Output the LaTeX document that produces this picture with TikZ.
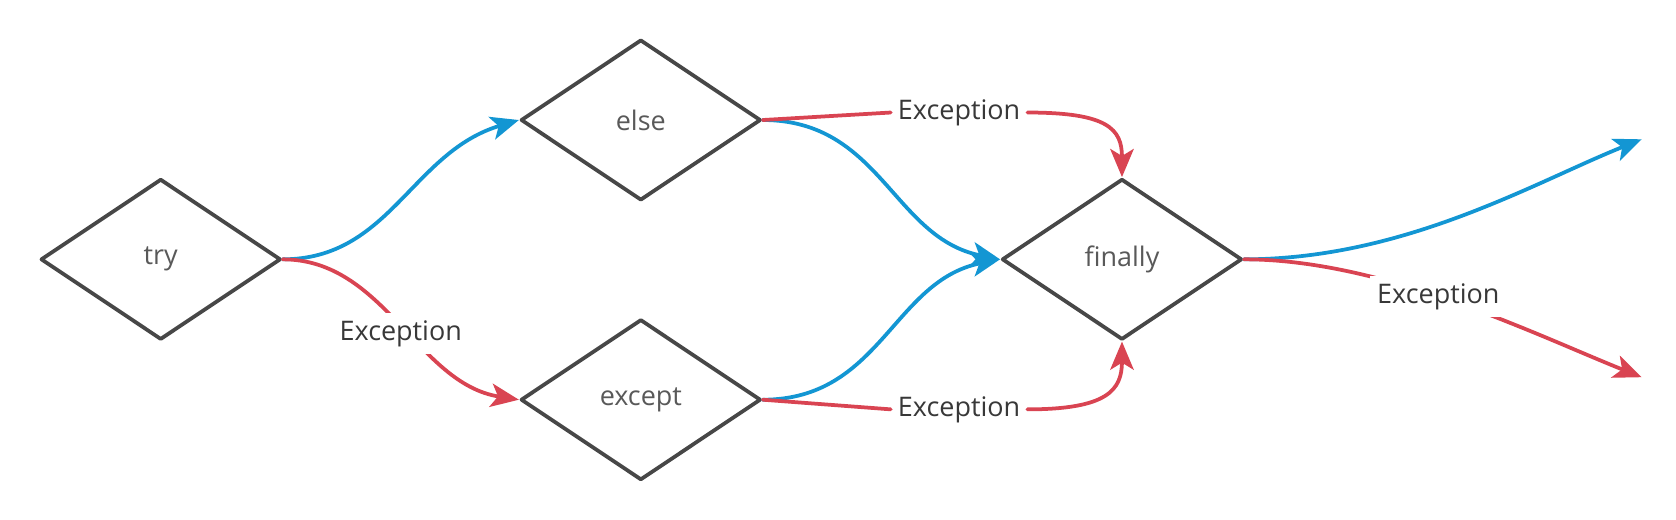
\documentclass[tikz,border=0pt]{standalone}
\usepackage{fontspec}
\setmainfont{Open Sans}
\usetikzlibrary{shapes.geometric,arrows.meta}
\definecolor{okblue}{HTML}{1396D3}
\definecolor{excred}{HTML}{D94452}
\definecolor{edgegray}{HTML}{474747}
\begin{document}
\begin{tikzpicture}[x=0.03214cm, y=-0.03214cm, font=\fontsize{23}{27}\selectfont, line join=round, line cap=round, >={Stealth[length=24pt,width=20pt,inset=6pt]},
	block/.style={diamond, draw=edgegray, line width=3.2pt, minimum width=7.2cm, minimum height=4.82cm, shape aspect=1.49, inner sep=0pt, text=black!65},
	okline/.style={okblue, line width=3.2pt},
	excline/.style={excred, line width=3.2pt},
	exclabel/.style={fill=white, text=black!78, inner sep=6pt}]
	\useasboundingbox (0,0) rectangle (1564,485);
	\node[block] (try) at (150,242) {try};
	\node[block] (else) at (598,112) {else};
	\node[block] (except) at (598,373) {except};
	\node[block] (finally) at (1047,242) {finally};
	\node[exclabel] (elseexc) at (895,105) {Exception};
	\node[exclabel] (exceptexc) at (895,382) {Exception};
	\coordinate (outok) at (1532,130);
	\coordinate (outexc) at (1532,352);
	% normal flow
	\draw[okline,->] (try.east) .. controls +(100,0) and +(-100,30) .. (else.west);
	\draw[okline,->] (else.east) .. controls +(110,0) and +(-100,-20) .. (finally.west);
	\draw[okline,->] (except.east) .. controls +(110,0) and +(-100,20) .. (finally.west);
	\draw[okline,->] (finally.east) .. controls +(150,0) and +(-100,40) .. (outok);
	% exceptions
	\draw[excline,->] (try.east) .. controls +(95,0) and +(-95,-15) .. node[exclabel,yshift=-0.3cm]{Exception} (except.west);
	\draw[excline] (else.east) -- (elseexc.west);
	\draw[excline,->] (elseexc.east) .. controls +(75,0) and +(0,-45) .. (finally.north);
	\draw[excline] (except.east) -- (exceptexc.west);
	\draw[excline,->] (exceptexc.east) .. controls +(75,0) and +(0,45) .. (finally.south);
	\draw[excline,->] (finally.east) .. controls +(130,0) and +(-100,-40) .. node[exclabel,pos=0.46]{Exception} (outexc);
\end{tikzpicture}
\end{document}
